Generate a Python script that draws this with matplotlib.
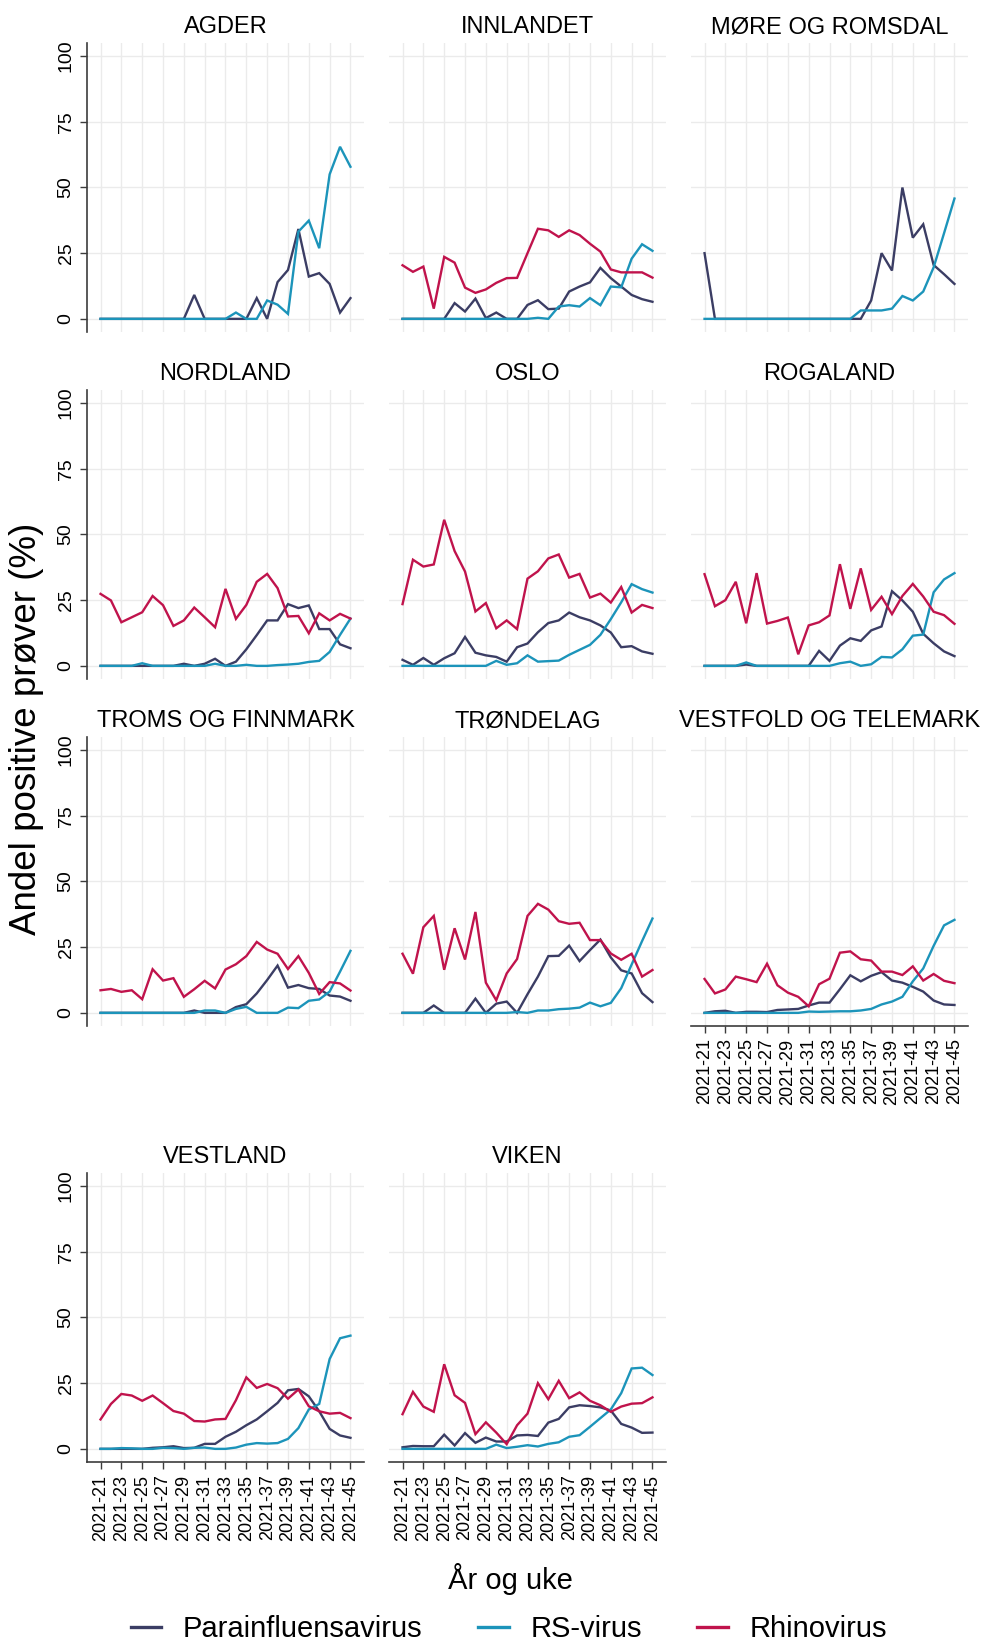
import matplotlib
matplotlib.use("Agg")
import matplotlib.pyplot as plt
from matplotlib.lines import Line2D

plt.rcParams["font.family"] = ["Liberation Sans", "DejaVu Sans"]

# uke 21 til 45, 2021
weeks = [f"2021-{w}" for w in range(21, 46)]

regions = ["AGDER", "INNLANDET", "MØRE OG ROMSDAL",
           "NORDLAND", "OSLO", "ROGALAND",
           "TROMS OG FINNMARK", "TRØNDELAG", "VESTFOLD OG TELEMARK",
           "VESTLAND", "VIKEN"]

agder_para = [0, 0, 0, 0, 0, 0, 0, 0, 0, 9.1, 0, 0, 0, 0, 0, 7.9, 0, 14.0, 18.6, 34.2, 16.1, 17.4, 13.3, 2.4, 7.9]
agder_rs = [0, 0, 0, 0, 0, 0, 0, 0, 0, 0, 0, 0, 0, 2.4, 0, 0, 7.0, 5.4, 1.9, 33.2, 37.4, 26.9, 55.0, 65.5, 57.9]
agder_rhino = None

innlandet_para = [0, 0, 0, 0, 0, 6.0, 2.8, 7.7, 0.3, 2.4, 0, 0, 5.3, 7.1, 3.7, 3.9, 10.4, 12.3, 13.9, 19.4, 15.5, 12.3, 9.1, 7.5, 6.5]
innlandet_rs = [0, 0, 0, 0, 0, 0, 0, 0, 0, 0, 0, 0, 0, 0.4, 0, 4.7, 5.2, 4.7, 7.9, 5.2, 12.3, 12.0, 22.9, 28.4, 25.9]
innlandet_rhino = [20.4, 17.9, 19.9, 3.9, 23.6, 21.4, 11.9, 9.9, 11.2, 13.7, 15.5, 15.6, 25.0, 34.3, 33.7, 31.2, 33.7, 31.9, 28.6, 25.6, 18.8, 17.7, 17.7, 17.7, 15.7]

more_para = [25.0, 0, 0, 0, 0, 0, 0, 0, 0, 0, 0, 0, 0, 0, 0, 0, 7.0, 25.0, 18.4, 50.0, 30.9, 36.0, 20.5, 17.0, 13.3]
more_rs = [0, 0, 0, 0, 0, 0, 0, 0, 0, 0, 0, 0, 0, 0, 0, 3.2, 3.2, 3.2, 3.9, 8.7, 7.0, 10.4, 19.6, 32.6, 45.8]
more_rhino = None

nordland_para = [0, 0, 0, 0, 0, 0, 0, 0, 0.8, 0, 0.8, 2.7, 0, 1.6, 6.3, 11.7, 17.3, 17.3, 23.5, 22.0, 23.0, 14.0, 14.0, 8.2, 6.7]
nordland_rs = [0, 0, 0, 0, 1.0, 0, 0, 0, 0, 0, 0, 0.8, 0, 0, 0.4, 0, 0, 0.3, 0.5, 0.8, 1.5, 1.9, 5.3, 11.8, 18.0]
nordland_rhino = [27.4, 24.9, 16.6, 18.5, 20.4, 26.6, 23.1, 15.2, 17.3, 22.2, 18.5, 14.7, 29.3, 17.9, 23.2, 32.0, 35.0, 29.6, 18.8, 19.0, 12.4, 20.0, 17.3, 19.8, 18.0]

oslo_para = [2.3, 0.4, 3.0, 0.4, 2.9, 4.8, 11.0, 5.0, 4.0, 3.4, 1.6, 7.1, 8.5, 12.8, 16.3, 17.3, 20.3, 18.5, 17.3, 15.4, 12.7, 7.1, 7.5, 5.5, 4.6]
oslo_rs = [0, 0, 0, 0, 0, 0, 0, 0, 0, 1.9, 0.4, 1.0, 4.0, 1.6, 1.8, 2.0, 4.2, 6.1, 8.0, 11.8, 17.8, 24.2, 31.1, 29.2, 27.9]
oslo_rhino = [23.5, 40.4, 37.8, 38.6, 55.6, 43.7, 35.9, 20.7, 23.9, 14.3, 17.3, 14.0, 33.2, 36.0, 40.9, 42.4, 33.6, 35.0, 26.0, 27.5, 24.1, 30.0, 20.3, 23.2, 22.0]

rogaland_para = [0, 0, 0, 0, 0.5, 0, 0, 0, 0, 0, 0, 5.7, 1.9, 7.7, 10.5, 9.5, 13.5, 15.0, 28.4, 24.9, 20.6, 12.2, 8.6, 5.5, 3.7]
rogaland_rs = [0, 0, 0, 0, 1.3, 0, 0, 0, 0, 0, 0, 0, 0, 1.0, 1.6, 0, 0.6, 3.4, 3.2, 6.3, 11.5, 11.9, 28.0, 32.9, 35.3]
rogaland_rhino = [34.9, 22.7, 25.0, 32.0, 16.2, 35.3, 16.1, 17.1, 18.4, 4.4, 15.4, 16.6, 19.2, 38.7, 21.7, 37.1, 21.3, 26.3, 19.7, 26.6, 31.2, 26.4, 20.6, 19.3, 16.0]

troms_para = [0, 0, 0, 0, 0, 0, 0, 0, 0, 0.9, 0, 0, 0, 2.2, 3.3, 7.4, 12.5, 18.0, 9.6, 10.6, 9.4, 9.1, 6.6, 6.2, 4.6]
troms_rs = [0, 0, 0, 0, 0, 0, 0, 0, 0, 0, 0.9, 0.9, 0, 1.5, 2.3, 0, 0, 0, 2.0, 1.8, 4.6, 5.1, 8.1, 15.7, 23.6]
troms_rhino = [8.6, 9.1, 8.0, 8.6, 5.2, 16.6, 12.3, 13.2, 6.1, 9.0, 12.2, 9.3, 16.5, 18.5, 21.6, 27.0, 24.1, 22.5, 16.7, 21.6, 15.2, 7.2, 11.7, 11.2, 8.5]

trondelag_para = [0, 0, 0, 2.8, 0, 0, 0, 5.4, 0, 3.5, 4.3, 0, 7.1, 13.8, 21.6, 21.7, 25.6, 19.7, 23.9, 27.9, 21.1, 16.2, 15.0, 7.5, 4.1]
trondelag_rs = [0, 0, 0, 0, 0, 0, 0, 0, 0, 0, 0, 0.3, 0, 0.9, 0.9, 1.4, 1.6, 2.0, 3.9, 2.5, 3.8, 9.4, 18.4, 27.3, 35.9]
trondelag_rhino = [22.5, 14.9, 32.6, 36.9, 16.4, 32.2, 20.3, 38.4, 11.5, 4.8, 15.0, 20.5, 36.9, 41.5, 39.3, 34.9, 33.9, 34.3, 27.7, 27.7, 22.6, 20.2, 22.5, 13.8, 16.3]

vestfold_para = [0, 0.6, 0.8, 0, 0.4, 0.4, 0.3, 1.1, 1.3, 1.5, 2.8, 3.9, 3.9, 9.0, 14.3, 12.0, 14.1, 15.5, 12.3, 11.5, 9.9, 8.1, 4.7, 3.2, 3.0]
vestfold_rs = [0, 0, 0, 0, 0, 0, 0, 0, 0, 0, 0.5, 0.4, 0.5, 0.6, 0.6, 0.9, 1.5, 3.2, 4.3, 6.1, 12.0, 16.9, 25.5, 33.3, 35.4]
vestfold_rhino = [12.9, 7.4, 8.9, 13.8, 12.8, 11.7, 18.7, 10.5, 7.7, 6.1, 2.5, 10.9, 13.0, 22.9, 23.4, 20.4, 19.9, 15.7, 15.7, 14.4, 17.7, 12.3, 14.8, 12.2, 11.3]

vestland_para = [0, 0, 0, 0, 0, 0.4, 0.6, 1.0, 0.3, 0.4, 1.9, 1.9, 4.6, 6.5, 9.0, 11.2, 14.3, 17.5, 22.3, 22.8, 20.0, 14.3, 7.6, 5.1, 4.2]
vestland_rs = [0, 0, 0.3, 0.2, 0, 0, 0.4, 0.3, 0, 0.4, 0.5, 0, 0, 0.5, 1.6, 2.2, 2.0, 2.2, 3.8, 7.9, 15.0, 17.1, 34.2, 42.1, 43.1]
vestland_rhino = [11.2, 17.1, 20.9, 20.3, 18.3, 20.3, 17.4, 14.4, 13.4, 10.6, 10.4, 11.2, 11.4, 18.5, 27.2, 23.2, 24.7, 23.1, 19.1, 22.6, 16.2, 14.3, 13.4, 13.7, 11.7]

viken_para = [0.6, 1.1, 1.0, 1.0, 5.4, 1.3, 6.0, 2.3, 4.3, 2.8, 2.8, 5.1, 5.3, 4.9, 10.0, 11.4, 15.8, 16.6, 16.3, 15.8, 14.6, 9.5, 8.1, 6.1, 6.2]
viken_rs = [0, 0, 0, 0, 0, 0, 0, 0, 0, 1.6, 0.3, 0.8, 1.4, 0.9, 1.9, 2.5, 4.6, 5.2, 8.4, 11.7, 15.0, 21.2, 30.6, 30.9, 28.1]
viken_rhino = [13.2, 21.7, 16.1, 14.1, 32.2, 20.4, 17.5, 5.6, 10.1, 6.2, 1.8, 9.0, 13.4, 25.0, 18.9, 25.9, 19.3, 21.5, 18.3, 16.6, 14.1, 16.1, 17.2, 17.4, 19.6]

series = [
    (agder_para, agder_rs, agder_rhino),
    (innlandet_para, innlandet_rs, innlandet_rhino),
    (more_para, more_rs, more_rhino),
    (nordland_para, nordland_rs, nordland_rhino),
    (oslo_para, oslo_rs, oslo_rhino),
    (rogaland_para, rogaland_rs, rogaland_rhino),
    (troms_para, troms_rs, troms_rhino),
    (trondelag_para, trondelag_rs, trondelag_rhino),
    (vestfold_para, vestfold_rs, vestfold_rhino),
    (vestland_para, vestland_rs, vestland_rhino),
    (viken_para, viken_rs, viken_rhino),
]

virus_names = ["Parainfluensavirus", "RS-virus", "Rhinovirus"]
colors = ["#3b3d64", "#1c94ba", "#c0134c"]
grid_color = "#ebebeb"
axis_color = "#3c3c3c"

W, H = 986, 1644
fig = plt.figure(figsize=(W / 100, H / 100), dpi=100)

# panel geometry in pixels
col_left = [87, 389, 691]
panel_w = 277
row_top = [43, 390, 737, 1173]
panel_h = 289

x = list(range(len(weeks)))
tick_idx = x[::2]

for i, (name, data) in enumerate(zip(regions, series)):
    r, c = divmod(i, 3)
    left = col_left[c] / W
    bottom = 1 - (row_top[r] + panel_h) / H
    ax = fig.add_axes([left, bottom, panel_w / W, panel_h / H])

    for yv in [0, 25, 50, 75, 100]:
        ax.axhline(yv, color=grid_color, lw=1.0, zorder=0)
    for xv in tick_idx:
        ax.axvline(xv, color=grid_color, lw=1.0, zorder=0)

    for vals, col in zip(data, colors):
        if vals is not None:
            ax.plot(x, vals, color=col, lw=1.7, solid_joinstyle="miter", zorder=2)

    ax.set_xlim(-1.3, 25.3)
    ax.set_ylim(-5, 105)
    ax.set_title(name, fontsize=17, pad=7)
    ax.set_facecolor("white")
    for s in ["top", "right"]:
        ax.spines[s].set_visible(False)

    ax.set_xticks(tick_idx)
    ax.set_yticks([0, 25, 50, 75, 100])

    show_x = r == 3 or (r == 2 and c == 2)
    if show_x:
        ax.set_xticklabels(weeks[::2], rotation=90, fontsize=13)
        ax.spines["bottom"].set_color(axis_color)
        ax.spines["bottom"].set_linewidth(1.2)
        ax.tick_params(axis="x", length=5, width=1.0, color=axis_color, pad=4)
    else:
        ax.spines["bottom"].set_visible(False)
        ax.tick_params(axis="x", length=0, labelbottom=False)

    if c == 0:
        ax.set_yticklabels(["0", "25", "50", "75", "100"], rotation=90,
                           va="center", fontsize=14)
        ax.spines["left"].set_color(axis_color)
        ax.spines["left"].set_linewidth(1.2)
        ax.tick_params(axis="y", length=5, width=1.0, color=axis_color, pad=4)
    else:
        ax.spines["left"].set_visible(False)
        ax.tick_params(axis="y", length=0, labelleft=False)

fig.text(27 / W, 1 - 729 / H, "Andel positive prøver (%)", rotation=90,
         ha="center", va="center", fontsize=26.5)
fig.text(510 / W, 1 - 1579 / H, "År og uke", ha="center", va="center",
         fontsize=21)

handles = [Line2D([0], [0], color=col, lw=2.4) for col in colors]
fig.legend(handles, virus_names, loc="center", ncol=3,
           bbox_to_anchor=(509 / W, 1 - 1629 / H), frameon=False,
           fontsize=21, handlelength=1.05, handletextpad=0.75,
           columnspacing=1.9)

fig.savefig("out.png", dpi=100, facecolor="white")
